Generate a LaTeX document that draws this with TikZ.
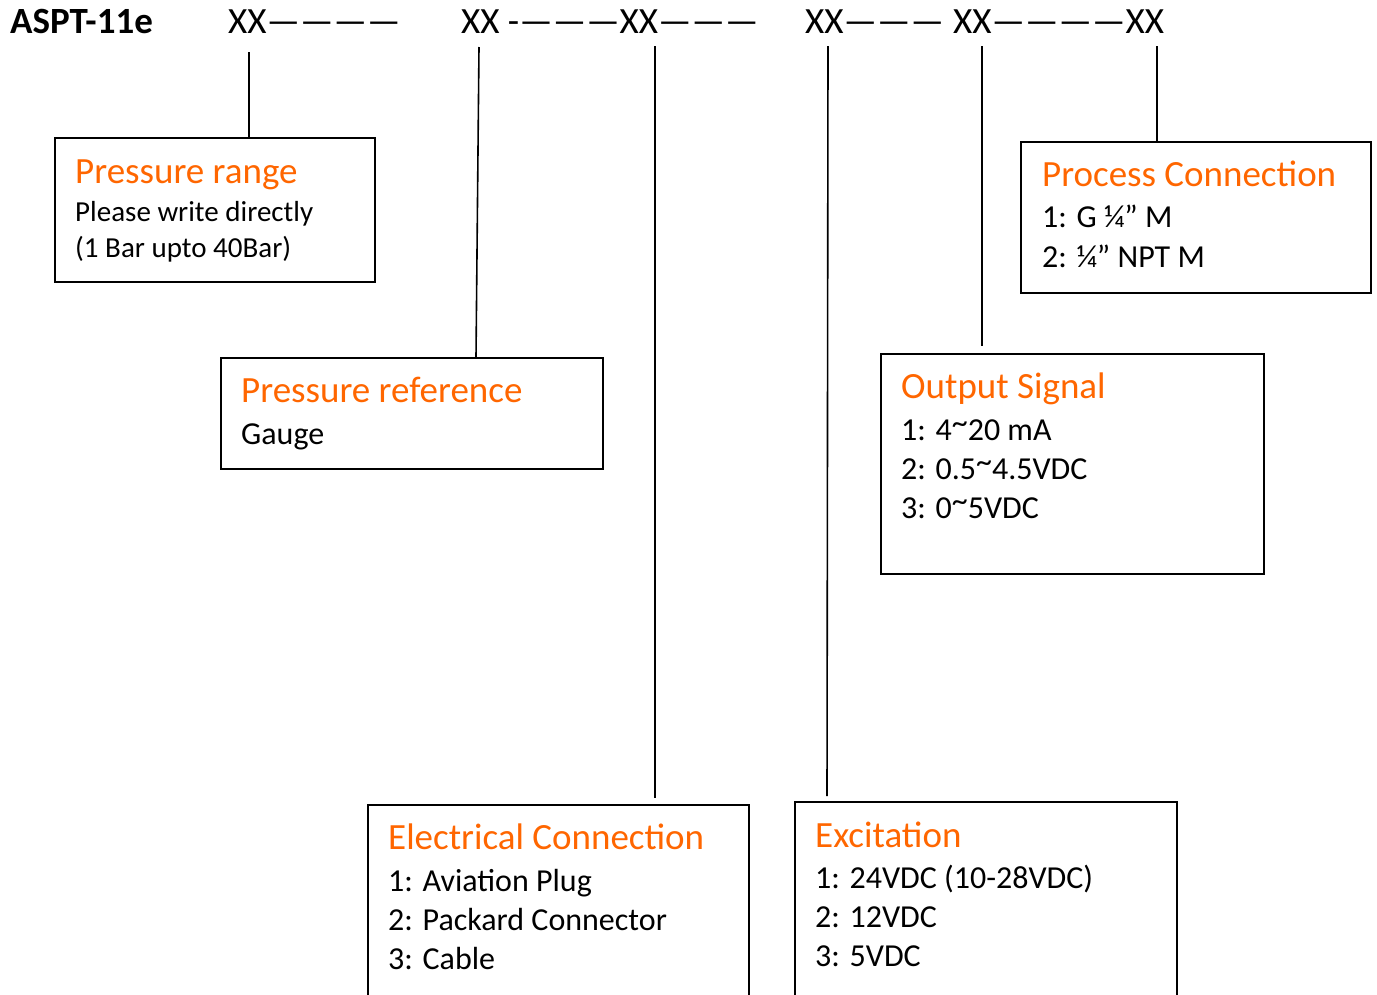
\documentclass[tikz,border=0pt]{standalone}
\usepackage{fontspec}
\setmainfont{Carlito}
\definecolor{titleorange}{RGB}{255,102,0}
\newcommand{\uptilde}{\raisebox{0.2em}{\textasciitilde}}
\tikzset{
  infobox/.style={draw,line width=2pt,rectangle,anchor=north west,inner sep=0pt},
  headtxt/.style={anchor=base west,inner sep=0pt,font=\fontsize{37}{44}\selectfont},
  boxtitle/.style={anchor=base west,inner sep=0pt,text=titleorange,font=\fontsize{37}{44}\selectfont},
  boxitem/.style={anchor=base west,inner sep=0pt,font=\fontsize{32}{38}\selectfont},
  codeline/.style={line width=1.6pt},
}
\begin{document}
\begin{tikzpicture}[x=1pt,y=-1pt]
\useasboundingbox (0,0) rectangle (1377,994);
\clip (0,0) rectangle (1377,994);
% model code
\node[headtxt,font=\fontsize{37}{44}\selectfont\bfseries] (model) at (10,33) {ASPT-11e};
\node[headtxt] (grpA) at (228,33) {XX————};
\node[headtxt] (grpB) at (461,33) {XX -———XX———};
\node[headtxt] (grpC) at (805,33) {XX———};
\node[headtxt] (grpD) at (953,33) {XX————XX};
\coordinate (t1) at (249,52);
\coordinate (t2) at (479,47);
\coordinate (t3) at (655,46);
\coordinate (t4) at (828,46);
\coordinate (t5) at (982,46);
\coordinate (t6) at (1157,46);
% boxes
\node[infobox,minimum width=320pt,minimum height=144pt] (prange) at (54,137) {};
\node[infobox,minimum width=382pt,minimum height=111pt] (pref) at (220,357) {};
\node[infobox,minimum width=381pt,minimum height=240pt] (elec) at (367,804) {};
\node[infobox,minimum width=382pt,minimum height=240pt] (excit) at (794,801) {};
\node[infobox,minimum width=383pt,minimum height=220pt] (outsig) at (880,353) {};
\node[infobox,minimum width=350pt,minimum height=151pt] (proc) at (1020,141) {};
% texts
\node[boxtitle] (prange-t) at (75,183) {Pressure range};
\node[boxitem,font=\fontsize{29}{35}\selectfont] (prange-1) at (75,221) {Please write directly};
\node[boxitem,font=\fontsize{29}{35}\selectfont] (prange-2) at (75,257) {(1 Bar upto 40Bar)};
\node[boxtitle] (pref-t) at (241,402) {Pressure reference};
\node[boxitem] (pref-1) at (241,444) {Gauge};
\node[boxtitle] (elec-t) at (388,849) {Electrical Connection};
\node[boxitem] (elec-1) at (388,891) {1: Aviation Plug};
\node[boxitem] (elec-2) at (388,930) {2: Packard Connector};
\node[boxitem] (elec-3) at (388,969) {3: Cable};
\node[boxtitle] (excit-t) at (815,847) {Excitation};
\node[boxitem] (excit-1) at (815,888) {1: 24VDC (10-28VDC)};
\node[boxitem] (excit-2) at (815,927) {2: 12VDC};
\node[boxitem] (excit-3) at (815,966) {3: 5VDC};
\node[boxtitle] (outsig-t) at (901,398) {Output Signal};
\node[boxitem] (outsig-1) at (901,440) {1: 4\uptilde20 mA};
\node[boxitem] (outsig-2) at (901,479) {2: 0.5\uptilde4.5VDC};
\node[boxitem] (outsig-3) at (901,518) {3: 0\uptilde5VDC};
\node[boxtitle] (proc-t) at (1042,186) {Process Connection};
\node[boxitem] (proc-1) at (1042,227) {1: G ¼” M};
\node[boxitem] (proc-2) at (1042,267) {2: ¼” NPT M};
% leader lines
\draw[codeline] (t1) -- (t1 |- prange.north);
\draw[codeline] (t2) -- ([xshift=-3pt]t2 |- pref.north);
\draw[codeline,shorten >=6pt] (t3) -- (t3 |- elec.north);
\draw[codeline,shorten >=5pt] (t4) -- ([xshift=-1pt]t4 |- excit.north);
\draw[codeline,shorten >=7pt] (t5) -- (t5 |- outsig.north);
\draw[codeline] (t6) -- (t6 |- proc.north);
\end{tikzpicture}
\end{document}
